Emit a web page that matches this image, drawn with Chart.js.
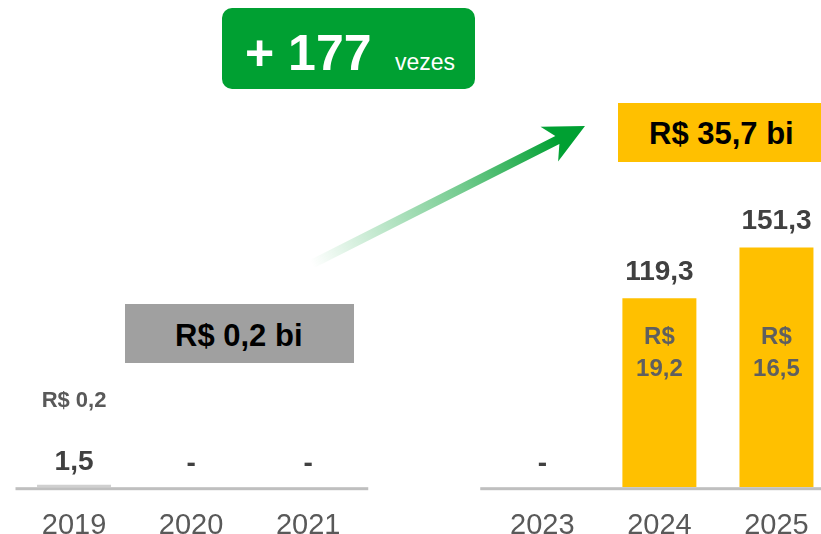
<!DOCTYPE html>
<html>
<head>
<meta charset="utf-8">
<script src="https://cdn.jsdelivr.net/npm/chart.js@4.4.1/dist/chart.umd.min.js"></script>
<style>
  html, body { margin: 0; padding: 0; background: #fff; overflow: hidden; width: 821px; height: 534px; }
  #wrap { position: absolute; left: 0; top: 0; width: 835px; height: 556px; }
  .box { position: absolute; }
  .txt { position: absolute; white-space: nowrap; font-family: "Liberation Sans", Arial, sans-serif; }
</style>
</head>
<body>
<div id="wrap"><canvas id="chart" width="835" height="556"></canvas></div>

<!-- callouts -->
<div class="box" style="left:222px;top:7.5px;width:253px;height:81px;background:#00A032;border-radius:10px;"></div>
<div class="txt" style="left:245px;top:27.7px;font-size:50px;line-height:50px;font-weight:bold;color:#fff;">+ 177</div>
<div class="txt" style="left:395px;top:50.5px;font-size:23px;line-height:23px;color:#fff;">vezes</div>

<div class="box" style="left:618px;top:103px;width:220px;height:59px;background:#FFC000;"></div>
<div class="txt" style="left:649px;top:117.8px;font-size:31px;line-height:31px;font-weight:bold;color:#000;">R$ 35,7 bi</div>

<div class="box" style="left:125px;top:304px;width:229px;height:59px;background:#A0A0A0;"></div>
<div class="txt" style="left:175px;top:319.8px;font-size:31px;line-height:31px;font-weight:bold;color:#000;">R$ 0,2 bi</div>

<script>
/* ============ DATA ============ */
const categories = ['2019', '2020', '2021', '', '2023', '2024', '2025'];
const values = [1.5, 0, 0, null, 0, 119.3, 151.3];
const valueLabels = ['1,5', '-', '-', '', '-', '119,3', '151,3'];
const subLabels = [['R$ 0,2'], [], [], [], [], ['R$', '19,2'], ['R$', '16,5']];

const FONT = "'Liberation Sans', Arial, sans-serif";
const GAP_INDEX = 3;

/* ============ PLUGINS ============ */
// split base line (gap between the two periods)
const axisLine = {
  id: 'axisLine',
  afterDatasetsDraw(chart) {
    const { ctx, chartArea, scales } = chart;
    const gx = scales.x.getPixelForValue(GAP_INDEX);
    ctx.save();
    ctx.fillStyle = '#BFBFBF';
    ctx.fillRect(chartArea.left, chartArea.bottom, gx - 57 - chartArea.left, 3);
    ctx.fillRect(gx + 55, chartArea.bottom, chartArea.right - gx - 55, 3);
    ctx.restore();
  },
};

// value labels above bars + R$ labels
const barLabels = {
  id: 'barLabels',
  afterDatasetsDraw(chart) {
    const { ctx, chartArea } = chart;
    const meta = chart.getDatasetMeta(0);
    ctx.save();
    ctx.textAlign = 'center';
    ctx.textBaseline = 'alphabetic';
    meta.data.forEach((bar, i) => {
      if (values[i] === null) return;
      ctx.fillStyle = '#404040';
      ctx.font = `bold 28px ${FONT}`;
      const off = values[i] > 5 ? 18 : 15;
      ctx.fillText(valueLabels[i], bar.x, bar.y - off);

      const lines = subLabels[i];
      if (lines.length === 1) {
        ctx.fillStyle = '#595959';
        ctx.font = `bold 22px ${FONT}`;
        ctx.fillText(lines[0], bar.x, chartArea.bottom - 80.5);
      } else if (lines.length === 2) {
        ctx.fillStyle = '#5F5F5F';
        ctx.font = `bold 24px ${FONT}`;
        ctx.fillText(lines[0], bar.x, chartArea.bottom - 143.5);
        ctx.fillText(lines[1], bar.x, chartArea.bottom - 111.5);
      }
    });
    ctx.restore();
  },
};

// growth arrow
const growthArrow = {
  id: 'growthArrow',
  afterDraw(chart) {
    const ctx = chart.ctx;
    const tail = { x: 312, y: 264 };
    const tip = { x: 585, y: 126 };
    const dx = tip.x - tail.x, dy = tip.y - tail.y;
    const len = Math.hypot(dx, dy);
    const ux = dx / len, uy = dy / len;
    const nx = -uy, ny = ux;
    const hw = 4.5, headLen = 40, headHw = 19.5, notch = 30;
    const p = (b, s) => [tip.x - ux * b + nx * s, tip.y - uy * b + ny * s];

    const grad = ctx.createLinearGradient(tail.x, tail.y, tip.x, tip.y);
    grad.addColorStop(0, 'rgba(0,160,50,0)');
    grad.addColorStop(0.55, 'rgba(0,160,50,0.55)');
    grad.addColorStop(0.9, 'rgba(0,160,50,1)');
    grad.addColorStop(1, 'rgba(0,160,50,1)');

    const pts = [
      [tail.x + nx * hw, tail.y + ny * hw],
      p(notch + 1, hw),
      p(headLen, headHw),
      [tip.x, tip.y],
      p(headLen, -headHw),
      p(notch + 1, -hw),
      [tail.x - nx * hw, tail.y - ny * hw],
    ];
    ctx.save();
    ctx.beginPath();
    pts.forEach((pt, i) => (i ? ctx.lineTo(pt[0], pt[1]) : ctx.moveTo(pt[0], pt[1])));
    ctx.closePath();
    ctx.fillStyle = grad;
    ctx.fill();
    ctx.restore();
  },
};

/* ============ CHART ============ */
new Chart(document.getElementById('chart'), {
  type: 'bar',
  data: {
    labels: categories,
    datasets: [{
      data: values,
      backgroundColor: (c) => (c.dataIndex < GAP_INDEX ? '#D0D0D0' : '#FFC000'),
      borderWidth: 0,
      categoryPercentage: 1,
      barPercentage: 0.632,
    }],
  },
  options: {
    responsive: false,
    animation: false,
    events: [],
    layout: { padding: { left: 15.5, right: 0, top: 0, bottom: 0 } },
    plugins: { legend: { display: false }, tooltip: { enabled: false } },
    scales: {
      x: {
        grid: { display: false },
        border: { display: false },
        ticks: {
          color: '#595959',
          font: { family: FONT, size: 29 },
          padding: 13,
          maxRotation: 0,
          autoSkip: false,
        },
      },
      y: {
        display: false,
        min: 0,
        max: 307.5,
      },
    },
  },
  plugins: [axisLine, barLabels, growthArrow],
});
</script>
</body>
</html>
